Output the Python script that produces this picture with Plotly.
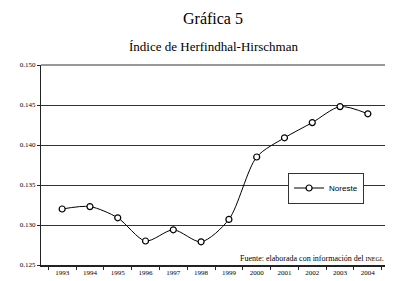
import plotly.graph_objects as go

years = ["1993", "1994", "1995", "1996", "1997", "1998", "1999", "2000", "2001", "2002", "2003", "2004"]
noreste = [0.1320, 0.1323, 0.1309, 0.1280, 0.1294, 0.1279, 0.1307, 0.1385, 0.1409, 0.1428, 0.1448, 0.1439]
y_ticks = [0.125, 0.130, 0.135, 0.140, 0.145, 0.150]

serif = "Liberation Serif, DejaVu Serif, serif"

fig = go.Figure()
fig.add_trace(go.Scatter(
    x=years, y=noreste, name="Noreste", mode="lines+markers",
    line=dict(color="black", width=1, shape="spline", smoothing=0.8),
    marker=dict(symbol="circle", size=6, color="white", line=dict(color="black", width=1.2)),
))

fig.update_layout(
    width=393, height=281,
    margin=dict(l=30, r=12, t=57, b=20),
    paper_bgcolor="white", plot_bgcolor="white",
    font=dict(family=serif, color="black"),
    showlegend=True,
    legend=dict(x=0.71, y=0.385, xanchor="left", yanchor="middle",
                bgcolor="white", bordercolor="#333", borderwidth=1,
                font=dict(family="Liberation Sans, Arial, sans-serif", size=8, color="black"),
                itemwidth=30, tracegroupgap=0),
)
fig.add_annotation(text="Gráfica 5", xref="paper", yref="paper", x=0.495, y=1.0, yshift=47,
                   showarrow=False, font=dict(size=16, family=serif), yanchor="middle")
fig.add_annotation(text="Índice de Herfindhal-Hirschman", xref="paper", yref="paper", x=0.495, y=1.0, yshift=19,
                   showarrow=False, font=dict(size=13, family=serif), yanchor="middle")
fig.add_annotation(text="Fuente: elaborada con información del <span style='font-size:6px'>INEGI</span>.",
                   xref="paper", yref="paper", x=0.99, y=0.035, xanchor="right", yanchor="middle",
                   showarrow=False, font=dict(size=8, family=serif))

fig.update_xaxes(
    type="category", showgrid=False, showline=True, linecolor="#222", linewidth=2,
    ticks="outside", tickson="boundaries", ticklen=3, tickcolor="#222",
    tickfont=dict(size=7, family=serif, color="black"), mirror=False,
)
fig.update_yaxes(
    range=[0.125, 0.150], tickvals=y_ticks, tickformat=".3f",
    showgrid=True, gridcolor="#333", gridwidth=1,
    showline=True, linecolor="#222", linewidth=1,
    ticks="outside", ticklen=3, tickcolor="#222",
    tickfont=dict(size=7, family=serif, color="black"), zeroline=False,
)
# top gridline and right border of plot area
fig.add_shape(type="line", xref="paper", yref="paper", x0=0, x1=1, y0=1, y1=1,
              line=dict(color="#333", width=1))
fig.add_shape(type="line", xref="paper", yref="paper", x0=1, x1=1, y0=0, y1=1,
              line=dict(color="#888", width=3))

fig.write_html("out.html")
